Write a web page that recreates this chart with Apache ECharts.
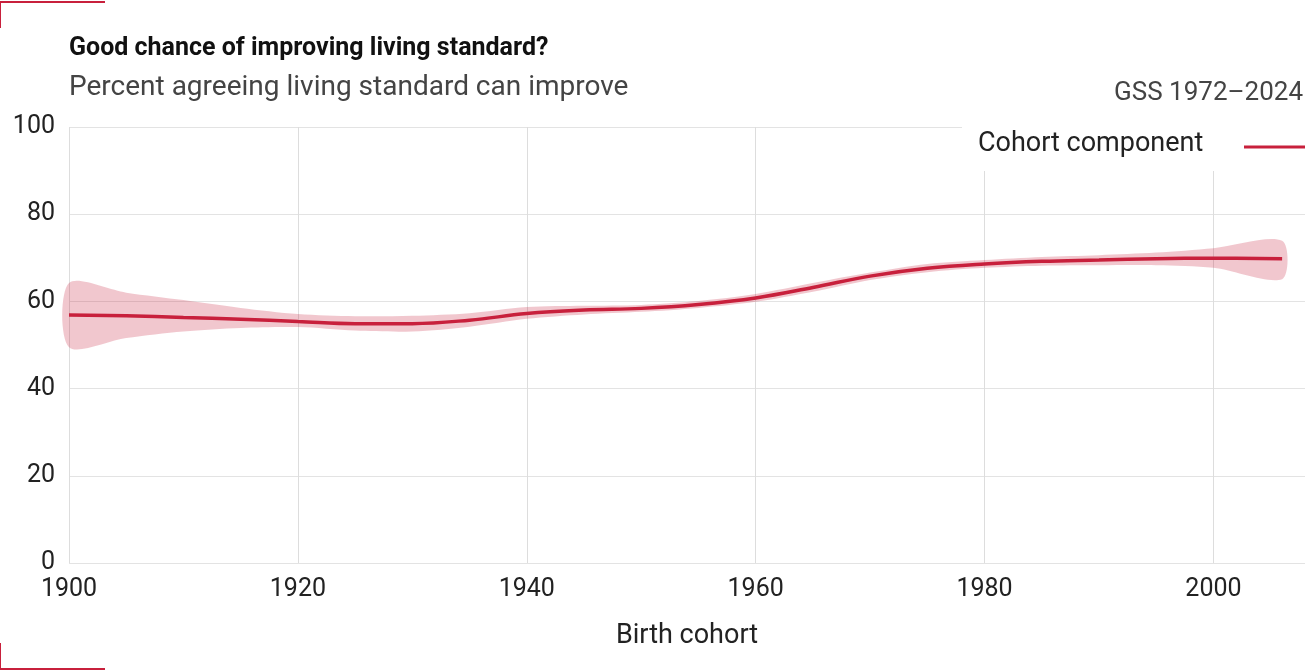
<!DOCTYPE html><html><head><meta charset="utf-8">
<script src="https://cdn.jsdelivr.net/npm/echarts@6/dist/echarts.min.js"></script>
<style>html,body{margin:0;background:#fff}#c{width:1305px;height:671px}</style></head><body><div id="c"></div>
<script>
const years=[1900,1905,1910,1915,1920,1925,1930,1935,1940,1945,1950,1955,1960,1965,1970,1975,1980,1985,1990,1995,2000,2006];
const estimate=[56.9,56.7,56.3,55.9,55.4,54.9,54.9,55.7,57.2,58.0,58.4,59.3,60.8,63.2,65.8,67.6,68.6,69.2,69.5,69.8,69.9,69.8];
const upper=[64.2,62.0,60.3,58.5,57.1,56.6,56.7,57.3,58.7,59.0,59.2,60.1,61.7,64.2,66.6,68.6,69.5,70.2,70.6,71.2,72.2,73.9];
const lower=[49.5,51.6,53.1,53.9,54.1,53.3,53.1,54.2,56.0,57.0,57.6,58.5,59.9,62.2,64.9,66.7,67.7,68.2,68.3,68.3,67.7,65.1];
const chart=echarts.init(document.getElementById('c'));
const ff='Roboto';
const red='#c8203c';
chart.setOption({
 animation:false,
 grid:{left:69,right:0,top:127,bottom:108},
 graphic:[
  {type:'text',left:69,top:36,style:{text:'Good chance of improving living standard?',fontFamily:ff,fontSize:25,fontWeight:'bold',fill:'#111'}},
  {type:'text',left:69,top:74,style:{text:'Percent agreeing living standard can improve',fontFamily:ff,fontSize:28,fill:'#444'}},
  {type:'text',right:2,top:80,style:{text:'GSS 1972\u20132024',fontFamily:ff,fontSize:26,fill:'#444'}},
  {type:'rect',shape:{x:962,y:125,width:343,height:46},style:{fill:'#fff'},z:50},
  {type:'text',left:978,top:131,style:{text:'Cohort component',fontFamily:ff,fontSize:27,fill:'#222'},z:51},
  {type:'line',shape:{x1:1244,y1:147,x2:1305,y2:147},style:{stroke:red,lineWidth:3},z:51},
  {type:'polyline',shape:{points:[[0,28],[0,2],[105,2]]},style:{stroke:red,lineWidth:2,fill:null}},
  {type:'polyline',shape:{points:[[0,643],[0,669],[105,669]]},style:{stroke:red,lineWidth:2,fill:null}}
 ],
 xAxis:{type:'value',min:1900,max:2008,interval:20,name:'Birth cohort',nameLocation:'middle',nameGap:60,
  nameTextStyle:{fontFamily:ff,fontSize:27,color:'#222'},
  axisLine:{show:false},axisTick:{show:false},
  axisLabel:{fontFamily:ff,fontSize:25,color:'#222',margin:14,showMaxLabel:false,formatter:v=>String(v)},
  splitLine:{lineStyle:{color:'#ddd'}}},
 yAxis:{type:'value',min:0,max:100,interval:20,axisLine:{show:false},axisTick:{show:false},
  axisLabel:{fontFamily:ff,fontSize:25,color:'#222',margin:14},splitLine:{lineStyle:{color:'#e3e3e3'}}},
 series:[
  {type:'custom',silent:true,data:[0],renderItem:(params,api)=>{
    const pts=years.map((y,i)=>api.coord([y,upper[i]])).concat(years.map((y,i)=>api.coord([y,lower[i]])).reverse());
    return {type:'polygon',shape:{points:pts,smooth:0.3},style:{fill:'rgba(200,32,60,0.25)'}};
  }},
  {type:'line',data:years.map((y,i)=>[y,estimate[i]]),smooth:0.4,symbol:'none',lineStyle:{color:red,width:3.5},z:5}
 ]
});
</script></body></html>
